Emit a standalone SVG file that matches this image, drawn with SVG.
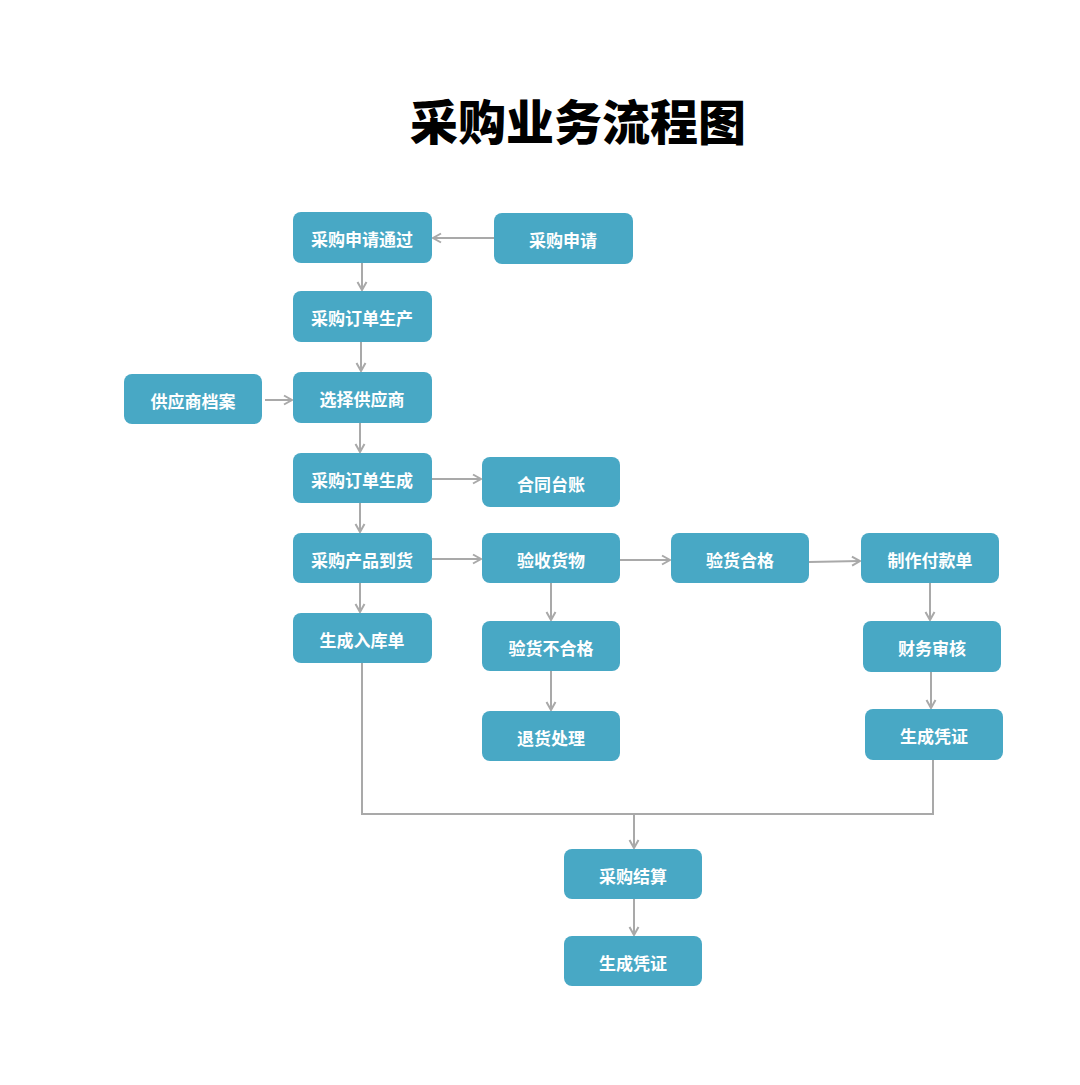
<svg xmlns="http://www.w3.org/2000/svg" width="1080" height="1085" viewBox="0 0 1080 1085">
<style>
.n rect{fill:#48a8c5;}
.n text{fill:#fff;font-family:"Noto Sans CJK SC","Liberation Sans",sans-serif;font-weight:bold;font-size:17px;text-anchor:middle;dominant-baseline:central;}
.c path{fill:none;stroke:#a9a9a9;stroke-width:2;}
.title{font-family:"Noto Sans CJK SC","Liberation Sans",sans-serif;font-weight:900;font-size:48px;text-anchor:middle;fill:#000;}
</style>
<defs>
<marker id="ah" markerWidth="12" markerHeight="12" refX="10" refY="6" orient="auto" markerUnits="userSpaceOnUse">
<path d="M2,1.5 L10,6 L2,10.5" fill="none" stroke="#a9a9a9" stroke-width="2"/>
</marker>
</defs>
<rect width="1080" height="1085" fill="#fff"/>
<text class="title" x="578" y="140">采购业务流程图</text>
<g class="c">
<path d="M494,238 H433" marker-end="url(#ah)"/>
<path d="M362,263 V290" marker-end="url(#ah)"/>
<path d="M361,342 V371" marker-end="url(#ah)"/>
<path d="M265,400 H292" marker-end="url(#ah)"/>
<path d="M360,423 V452" marker-end="url(#ah)"/>
<path d="M432,479 H481" marker-end="url(#ah)"/>
<path d="M360,503 V532" marker-end="url(#ah)"/>
<path d="M432,559 H481" marker-end="url(#ah)"/>
<path d="M360,583 V612" marker-end="url(#ah)"/>
<path d="M551,583 V620" marker-end="url(#ah)"/>
<path d="M551,671 V710" marker-end="url(#ah)"/>
<path d="M620,560 H670" marker-end="url(#ah)"/>
<path d="M809,562 L860,561" marker-end="url(#ah)"/>
<path d="M930,583 V620" marker-end="url(#ah)"/>
<path d="M931,672 V708" marker-end="url(#ah)"/>
<path d="M362,663 V814 H933 V760"/>
<path d="M634,814 V848" marker-end="url(#ah)"/>
<path d="M634,899 V935" marker-end="url(#ah)"/>
</g>
<g id="n1" class="n"><rect x="293" y="212" width="139" height="51" rx="8"/><text x="362" y="238">采购申请通过</text></g>
<g id="n2" class="n"><rect x="494" y="213" width="139" height="51" rx="8"/><text x="563" y="239">采购申请</text></g>
<g id="n3" class="n"><rect x="293" y="291" width="139" height="51" rx="8"/><text x="362" y="317">采购订单生产</text></g>
<g id="n4" class="n"><rect x="124" y="374" width="138" height="50" rx="8"/><text x="193" y="400">供应商档案</text></g>
<g id="n5" class="n"><rect x="293" y="372" width="139" height="51" rx="8"/><text x="362" y="398">选择供应商</text></g>
<g id="n6" class="n"><rect x="293" y="453" width="139" height="50" rx="8"/><text x="362" y="479">采购订单生成</text></g>
<g id="n7" class="n"><rect x="482" y="457" width="138" height="50" rx="8"/><text x="551" y="483">合同台账</text></g>
<g id="n8" class="n"><rect x="293" y="533" width="139" height="50" rx="8"/><text x="362" y="559">采购产品到货</text></g>
<g id="n9" class="n"><rect x="482" y="533" width="138" height="50" rx="8"/><text x="551" y="559">验收货物</text></g>
<g id="n10" class="n"><rect x="671" y="533" width="138" height="50" rx="8"/><text x="740" y="559">验货合格</text></g>
<g id="n11" class="n"><rect x="861" y="533" width="138" height="50" rx="8"/><text x="930" y="559">制作付款单</text></g>
<g id="n12" class="n"><rect x="293" y="613" width="139" height="50" rx="8"/><text x="362" y="639">生成入库单</text></g>
<g id="n13" class="n"><rect x="482" y="621" width="138" height="50" rx="8"/><text x="551" y="647">验货不合格</text></g>
<g id="n14" class="n"><rect x="482" y="711" width="138" height="50" rx="8"/><text x="551" y="737">退货处理</text></g>
<g id="n15" class="n"><rect x="863" y="621" width="138" height="51" rx="8"/><text x="932" y="647">财务审核</text></g>
<g id="n16" class="n"><rect x="865" y="709" width="138" height="51" rx="8"/><text x="934" y="735">生成凭证</text></g>
<g id="n17" class="n"><rect x="564" y="849" width="138" height="50" rx="8"/><text x="633" y="875">采购结算</text></g>
<g id="n18" class="n"><rect x="564" y="936" width="138" height="50" rx="8"/><text x="633" y="962">生成凭证</text></g>
</svg>
